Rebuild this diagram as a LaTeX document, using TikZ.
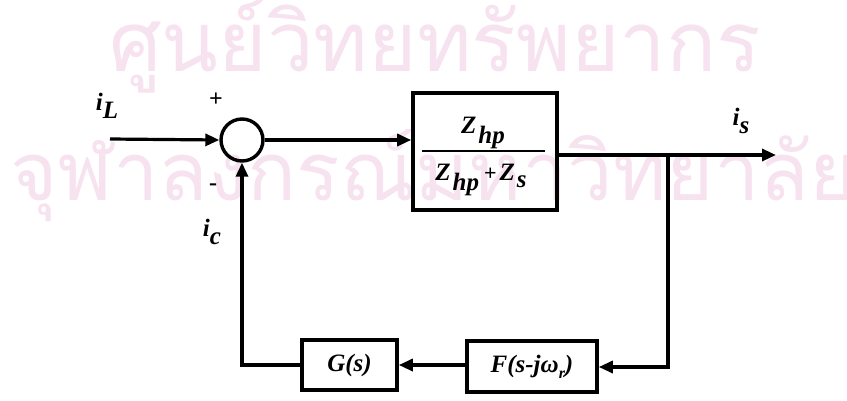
\documentclass[tikz,border=0pt]{standalone}
\usepackage{fontspec}
\setmainfont{Liberation Serif}
\newfontfamily\thaifont[Script=Thai]{Loma}
\usetikzlibrary{arrows.meta}
\definecolor{wmpink}{RGB}{247,226,240}
\tikzset{
  wire/.style={line width=3.2pt, line cap=butt},
  arr/.style={wire, -{Triangle[length=14pt,width=12pt]}},
  blockbox/.style={draw, line width=3.6pt, inner sep=0pt},
  lbl/.style={font=\fontsize{25}{27}\selectfont\bfseries\itshape, inner sep=0pt},
  sgn/.style={font=\fontsize{24}{26}\selectfont\bfseries, inner sep=0pt},
  wm/.style={text=wmpink, inner sep=0pt, font=\thaifont\fontsize{81}{84}\selectfont}
}
\newcommand{\lowsub}[2][-0.35em]{\raisebox{#1}{#2}}
\begin{document}
\begin{tikzpicture}[x=1pt,y=-1pt]
\useasboundingbox (0,0) rectangle (847,400);
\fill[white] (0,0) rectangle (847,400);
% watermark
\node[wm, anchor=west, font=\thaifont\fontsize{83}{86}\selectfont] (wmA) at (109,46) {ศูนย์วิทยทรัพยากร};
\node[wm, anchor=west] (wmB) at (10,176) {จุฬาลงกรณ์มหาวิทยาลัย};
% blocks
\node[draw, circle, line width=3.4pt, minimum size=42pt, inner sep=0pt] (sum) at (242,140) {};
\node[blockbox, minimum width=144pt, minimum height=117pt] (Z) at (485,151.5) {};
\node[lbl] (num) at (483,133) {Z\kern2pt\lowsub[-0.42em]{hp}};
\node[lbl] (den) at (481,180) {Z\kern2pt\lowsub[-0.42em]{hp}\kern5pt{\upshape\fontsize{22}{24}\selectfont +}\kern3pt Z\kern2pt\lowsub[-0.3em]{s}};
\draw[line width=1.2pt] (422,151) -- (545,151);
\node[blockbox, minimum width=95pt, minimum height=50pt] (G) at (349.5,365) {};
\node[lbl] (Gt) at (G.center) {G(s)};
\node[blockbox, minimum width=130pt, minimum height=51pt] (F) at (532,366.5) {};
\node[lbl] (Ft) at (F.center) {F(s-jω\lowsub[-0.25em]{\fontsize{16}{18}\selectfont r})};
% coordinates
\coordinate (in) at (110,139);
\coordinate (out) at (776,155);
\coordinate (br) at (668,155);
\coordinate (brd) at (668,367);
\coordinate (lft) at (242,365);
% connectors
\draw[arr] (in) -- (sum.west);
\draw[arr] (sum.east) -- (sum.east -| Z.west);
\draw[arr] (Z.east |- out) -- (out);
\draw[arr] (br) -- (brd) -- (F.east |- brd);
\draw[arr] (F.west |- G) -- (G.east);
\draw[arr] (G.west) -- (lft) -- (sum.south);
% labels
\node[lbl] (iL) at (107,106) {i\lowsub[-0.3em]{L}};
\node[sgn] (plus) at (216,100) {+};
\node[sgn] (minus) at (213,187) {-};
\node[lbl] (ic) at (212,232) {i\lowsub[-0.3em]{c}};
\node[lbl] (is) at (741,121) {i\lowsub[-0.3em]{s}};
\end{tikzpicture}
\end{document}
